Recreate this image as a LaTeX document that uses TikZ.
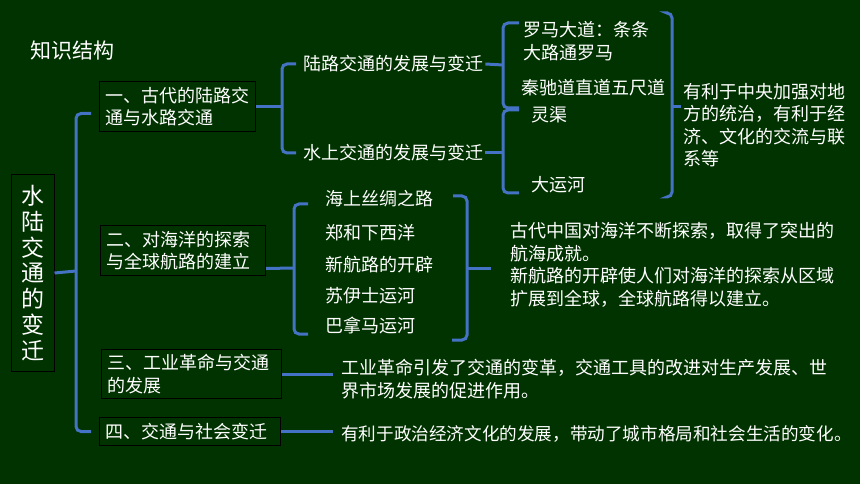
\documentclass[tikz,border=0pt]{standalone}
\usepackage{fontspec}
\setmainfont{Noto Sans CJK SC}
\usetikzlibrary{calc}
\definecolor{tafel}{RGB}{0,51,0}
\definecolor{blau}{RGB}{68,114,196}
\tikzset{
  txt/.style={text=white, font=\fontsize{18}{22.5}\selectfont, inner sep=2pt, align=left},
  kasten/.style={txt, draw=black, line width=1pt, anchor=north west, inner xsep=6pt},
  klammer/.style={draw=blau, line width=3pt, rounded corners=5pt}
}
\begin{document}
\begin{tikzpicture}[x=1pt, y=-1pt]
		\useasboundingbox (0,0) rectangle (860,484);
		\fill[tafel] (0,0) rectangle (860,484);
		
		%Titel
		\node[txt, anchor=west, font=\fontsize{21}{24}\selectfont] (titel) at (28,51) {知识结构};
		\node[txt, draw=black, line width=1pt, align=center, minimum width=43pt, minimum height=196pt,
			font=\fontsize{23}{25.7}\selectfont] (haupt) at (32.5,273) {水\\陆\\交\\通\\的\\变\\迁};
		
		%Kaesten
		\node[kasten, text width=144pt, minimum height=50pt] (b1) at (99,81) {一、古代的陆路交\\通与水路交通};
		\node[kasten, text width=153pt, minimum height=50pt] (b2) at (100,225) {二、对海洋的探索\\与全球航路的建立};
		\node[kasten, text width=168pt, minimum height=49pt] (b3) at (101,349) {三、工业革命与交通\\的发展};
		\node[kasten, text width=169pt, minimum height=28pt] (b4) at (99,417) {四、交通与社会变迁};
		
		%Texte
		\node[txt, anchor=west] (lu) at (301,64) {陆路交通的发展与变迁};
		\node[txt, anchor=west] (shui) at (301,153) {水上交通的发展与变迁};
		\node[txt, anchor=west] (luoma) at (521,41) {罗马大道：条条\\大路通罗马};
		\node[txt, anchor=west] (qin) at (519,88) {秦驰道直道五尺道};
		\node[txt, anchor=west] (lingqu) at (529,115) {灵渠};
		\node[txt, anchor=west] (yunhe) at (529,185) {大运河};
		\node[txt, anchor=west] (youli) at (681,125) {有利于中央加强对地\\方的统治，有利于经\\济、文化的交流与联\\系等};
		
		\foreach \n/\y/\t in {s1/199/海上丝绸之路, s2/233/郑和下西洋, s3/265/新航路的开辟, s4/296/苏伊士运河, s5/326/巴拿马运河} {
			\node[txt, anchor=west] (\n) at (323,\y) {\t};
		}
		\node[txt, anchor=west] (hai) at (508,265) {古代中国对海洋不断探索，取得了突出的\\航海成就。\\新航路的开辟使人们对海洋的探索从区域\\扩展到全球，全球航路得以建立。};
		\node[txt, anchor=west] (gongye) at (339,379) {工业革命引发了交通的变革，交通工具的改进对生产发展、世\\界市场发展的促进作用。};
		\node[txt, anchor=west, font=\fontsize{17.6}{22.5}\selectfont] (shehui) at (339,434) {有利于政治经济文化的发展，带动了城市格局和社会生活的变化。};
		
		%Klammerpunkte
		\coordinate (k0) at (76,271);
		\coordinate (k1) at ([xshift=26pt]b1.east);
		\coordinate (k2) at (503,65);
		\coordinate (k2a) at (519,23);
		\coordinate (k2b) at (519,108);
		\coordinate (k3) at (503,153);
		\coordinate (k3a) at (519,110);
		\coordinate (k3b) at (519,193);
		\coordinate (k4) at (672,107);
		\coordinate (k4a) at (668,13);
		\coordinate (k4b) at (668,197);
		\coordinate (k5) at (294,268);
		\coordinate (k5a) at (308,204);
		\coordinate (k5b) at (308,334);
		\coordinate (k6) at (467,268);
		\coordinate (k6a) at (453,196);
		\coordinate (k6b) at (452,340);
		
		%Klammern
		\draw[klammer] (haupt.east) -- (k0);
		\draw[klammer, shorten <=8pt, shorten >=8pt] ([yshift=-7pt]b1.west) -| (k0) |- (b4.west);
		
		\draw[klammer] (b1.east) -- (k1);
		\draw[klammer, shorten <=5pt, shorten >=5pt] (lu.west) -| (k1) |- (shui.west);
		
		\draw[klammer] (lu.east) -- (k2);
		\draw[klammer] (k2a) -| (k2) |- (k2b);
		\draw[klammer] (shui.east) -- (k3);
		\draw[klammer] (k3a) -| (k3) |- (k3b);
		
		\draw[klammer] (k4a) -| (k4) |- (k4b);
		\draw[klammer] (k4) -- (k4 -| youli.west);
		
		\draw[klammer] ([yshift=-18pt]b2.east) -- (k5);
		\draw[klammer] (k5a) -| (k5) |- (k5b);
		\draw[klammer] (k6a) -| (k6) |- (k6b);
		\draw[klammer] (k6) -- ([xshift=-17pt]k6 -| hai.west);
		
		\draw[klammer] (b3.east) -- ([xshift=-6pt]b3.east -| gongye.west);
		\draw[klammer] (b4.east) -- ([xshift=-6pt]b4.east -| shehui.west);
	\end{tikzpicture}
\end{document}
